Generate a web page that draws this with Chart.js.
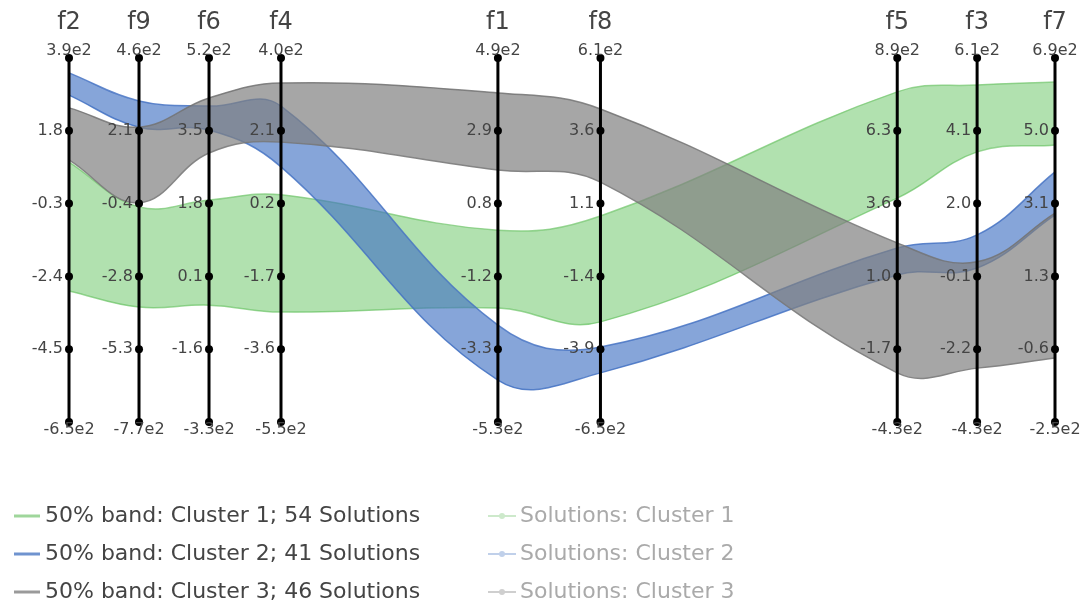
<!DOCTYPE html>
<html>
<head>
<meta charset="utf-8">
<script src="https://cdn.jsdelivr.net/npm/chart.js@4.4.1/dist/chart.umd.min.js"></script>
<style>
  html, body { margin: 0; padding: 0; background: #fff; }
  #wrap { width: 1084px; height: 608px; }
</style>
</head>
<body>
<div id="wrap"><canvas id="pc" width="1084" height="608"></canvas></div>
<script>
// axes (order as shown) and where they sit along x (0..1)
const axisNames = ["f2", "f9", "f6", "f4", "f1", "f8", "f5", "f3", "f7"];
const axisX = [0, 0.071, 0.142, 0.215, 0.435, 0.539, 0.840, 0.921, 1.0];

// tick labels per axis, top to bottom
const tickLabels = [
  ["3.9e2", "1.8", "-0.3", "-2.4", "-4.5", "-6.5e2"],
  ["4.6e2", "2.1", "-0.4", "-2.8", "-5.3", "-7.7e2"],
  ["5.2e2", "3.5", "1.8", "0.1", "-1.6", "-3.3e2"],
  ["4.0e2", "2.1", "0.2", "-1.7", "-3.6", "-5.5e2"],
  ["4.9e2", "2.9", "0.8", "-1.2", "-3.3", "-5.3e2"],
  ["6.1e2", "3.6", "1.1", "-1.4", "-3.9", "-6.5e2"],
  ["8.9e2", "6.3", "3.6", "1.0", "-1.7", "-4.3e2"],
  ["6.1e2", "4.1", "2.0", "-0.1", "-2.2", "-4.3e2"],
  ["6.9e2", "5.0", "3.1", "1.3", "-0.6", "-2.5e2"]
];
const tickPos = [1, 0.8, 0.6, 0.4, 0.2, 0];

// 50% bands, normalised axis position (0 = bottom, 1 = top)
const clusterNames = ["Cluster 1", "Cluster 2", "Cluster 3"];
const clusterSizes = [54, 41, 46];
const c1Upper = [0.714, 0.591, 0.610, 0.624, 0.527, 0.566, 0.907, 0.926, 0.934];
const c1Lower = [0.360, 0.316, 0.321, 0.302, 0.313, 0.275, 0.615, 0.742, 0.761];
const c2Upper = [0.959, 0.882, 0.868, 0.868, 0.266, 0.206, 0.478, 0.514, 0.687];
const c2Lower = [0.898, 0.810, 0.802, 0.701, 0.115, 0.135, 0.404, 0.423, 0.569];
const c3Upper = [0.863, 0.810, 0.890, 0.931, 0.904, 0.860, 0.492, 0.440, 0.574];
const c3Lower = [0.720, 0.602, 0.739, 0.769, 0.692, 0.659, 0.135, 0.148, 0.176];

const fills = ["rgba(100,195,95,0.5)", "rgba(66,114,196,0.64)", "rgba(128,128,128,0.7)"];
const edges = ["rgba(120,200,115,0.75)", "rgba(70,115,195,0.85)", "rgba(115,115,115,0.85)"];

function pts(arr) {
  return arr.map((v, i) => ({ x: axisX[i], y: v }));
}

function band(upper, lower, k) {
  return [
    { data: pts(upper), fill: "+1", backgroundColor: fills[k], borderColor: edges[k],
      borderWidth: 1.5, pointRadius: 0, tension: 0.4, clip: false },
    { data: pts(lower), fill: false, borderColor: edges[k],
      borderWidth: 1.5, pointRadius: 0, tension: 0.4, clip: false }
  ];
}

// gray first so it sits on top
const datasets = [
  ...band(c3Upper, c3Lower, 2),
  ...band(c2Upper, c2Lower, 1),
  ...band(c1Upper, c1Lower, 0)
];

const axesPlugin = {
  id: "pcAxes",
  afterDatasetsDraw(chart) {
    const { ctx, scales: { x, y } } = chart;
    ctx.save();
    axisNames.forEach((name, i) => {
      const xp = x.getPixelForValue(axisX[i]);
      // axis line
      ctx.beginPath();
      ctx.moveTo(xp, y.getPixelForValue(1));
      ctx.lineTo(xp, y.getPixelForValue(0));
      ctx.lineWidth = 3;
      ctx.strokeStyle = "#000";
      ctx.stroke();
      // tick dots + labels
      tickPos.forEach((t, j) => {
        const yp = y.getPixelForValue(t);
        ctx.beginPath();
        ctx.arc(xp, yp, 4, 0, Math.PI * 2);
        ctx.fillStyle = "#000";
        ctx.fill();
        ctx.fillStyle = "#444";
        ctx.font = "16px 'DejaVu Sans'";
        if (j === 0) {
          ctx.textAlign = "center";
          ctx.textBaseline = "alphabetic";
          ctx.fillText(tickLabels[i][j], xp, yp - 3);
        } else if (j === tickPos.length - 1) {
          ctx.textAlign = "center";
          ctx.textBaseline = "alphabetic";
          ctx.fillText(tickLabels[i][j], xp, yp + 12);
        } else {
          ctx.textAlign = "right";
          ctx.textBaseline = "middle";
          ctx.fillText(tickLabels[i][j], xp - 6, yp);
        }
      });
      // axis title
      ctx.font = "24px 'DejaVu Sans'";
      ctx.textAlign = "center";
      ctx.textBaseline = "alphabetic";
      ctx.fillStyle = "#444";
      ctx.fillText(name, xp, 29);
    });
    ctx.restore();
  }
};

const legendPlugin = {
  id: "pcLegend",
  afterDraw(chart) {
    const ctx = chart.ctx;
    const rowY = [516, 554, 592];
    const swatch = ["#9fd69b", "#6f93cf", "#9a9a9a"];
    const faded = ["#cde9cb", "#c0d0ea", "#cfcfcf"];
    ctx.save();
    ctx.font = "22px 'DejaVu Sans'";
    ctx.textBaseline = "middle";
    ctx.textAlign = "left";
    clusterNames.forEach((c, k) => {
      const yy = rowY[k];
      // band entry
      ctx.beginPath();
      ctx.moveTo(14, yy);
      ctx.lineTo(40, yy);
      ctx.lineWidth = 3;
      ctx.strokeStyle = swatch[k];
      ctx.stroke();
      ctx.fillStyle = "#444";
      ctx.fillText("50% band: " + c + "; " + clusterSizes[k] + " Solutions", 45, yy);
      // solutions entry (hidden trace)
      ctx.beginPath();
      ctx.moveTo(488, yy);
      ctx.lineTo(516, yy);
      ctx.lineWidth = 2;
      ctx.strokeStyle = faded[k];
      ctx.stroke();
      ctx.beginPath();
      ctx.arc(502, yy, 3, 0, Math.PI * 2);
      ctx.fillStyle = faded[k];
      ctx.fill();
      ctx.fillStyle = "#aaa";
      ctx.fillText("Solutions: " + c, 520, yy);
    });
    ctx.restore();
  }
};

new Chart(document.getElementById("pc"), {
  type: "line",
  data: { datasets },
  options: {
    responsive: false,
    animation: false,
    layout: { padding: { left: 69, right: 29, top: 58, bottom: 186 } },
    scales: {
      x: { type: "linear", min: 0, max: 1, display: false },
      y: { min: 0, max: 1, display: false }
    },
    plugins: {
      legend: { display: false },
      tooltip: { enabled: false }
    }
  },
  plugins: [axesPlugin, legendPlugin]
});
</script>
</body>
</html>
